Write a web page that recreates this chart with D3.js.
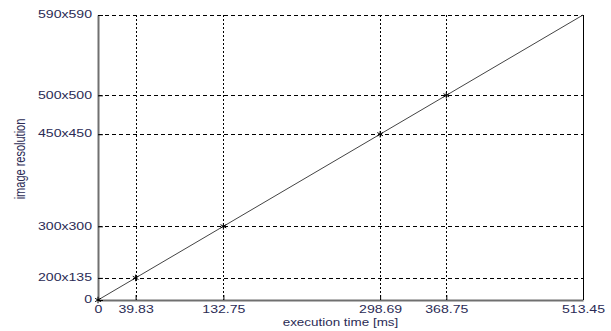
<!DOCTYPE html>
<html lang="en">
	<head>
		<meta charset="utf-8">
		<title>Execution time vs resolution</title>
		<script type="text/javascript" src="https://d3js.org/d3.v7.min.js"></script>
		<style type="text/css">
			body { margin: 0; background: #fff; }
			text { font-family: Arial, "Liberation Sans", sans-serif; }
		</style>
	</head>
	<body>
		<script>
			// execution time [ms] for each resolution
			var times = [0, 39.83, 132.75, 298.69, 368.75, 513.45];
			// total pixels of each resolution
			var pixels = [0, 27000, 90000, 202500, 250000, 348100];
			var resLabels = ["0", "200x135", "300x300", "450x450", "500x500", "590x590"];
			var timeLabels = ["0", "39.83", "132.75", "298.69", "368.75", "513.45"];
			var marked = [true, true, true, true, true, false];

			var margin = {top: 15, right: 28, bottom: 31, left: 98},
				outerWidth = 611,
				outerHeight = 331,
				width = outerWidth - margin.left - margin.right,
				height = outerHeight - margin.top - margin.bottom,
				stretch = 1.28; // the original figure's text is wide

			var svg = d3.select("body")
				.append("svg")
				.attr("width", outerWidth)
				.attr("height", outerHeight);

			var g = svg.append("g")
				.attr("transform", "translate(" + margin.left + "," + margin.top + ")");

			var x = d3.scaleLinear().domain([0, 513.45]).range([0, width]);
			var y = d3.scaleLinear().domain([0, 348100]).range([height, 0]);

			var points = times.map(function(t, i) {
				return {t: t, p: pixels[i], mark: marked[i]};
			});

			// grid
			g.append("g").selectAll("line")
				.data(times.slice(1, -1))
				.enter().append("line")
				.attr("x1", function(d) { return Math.round(x(d)) + 0.5; })
				.attr("x2", function(d) { return Math.round(x(d)) + 0.5; })
				.attr("y1", 0).attr("y2", height)
				.attr("stroke", "#000").attr("stroke-width", 1)
				.attr("stroke-dasharray", "2,2");

			g.append("g").selectAll("line")
				.data(pixels.slice(1))
				.enter().append("line")
				.attr("y1", function(d) { return Math.round(y(d)) + 0.5; })
				.attr("y2", function(d) { return Math.round(y(d)) + 0.5; })
				.attr("x1", 0).attr("x2", width)
				.attr("stroke", "#000").attr("stroke-width", 1)
				.attr("stroke-dasharray", "4,3");

			// right border
			g.append("line")
				.attr("x1", width + 0.5).attr("x2", width + 0.5)
				.attr("y1", 0).attr("y2", height)
				.attr("stroke", "#000");

			// axes
			var xAxis = d3.axisBottom(x)
				.tickValues(times)
				.tickFormat(function(d, i) { return timeLabels[i]; })
				.tickSizeInner(-5).tickSizeOuter(0).tickPadding(5);
			var yAxis = d3.axisLeft(y)
				.tickValues(pixels)
				.tickFormat(function(d, i) { return resLabels[i]; })
				.tickSizeInner(-5).tickSizeOuter(0).tickPadding(6);

			var gx = g.append("g")
				.attr("transform", "translate(0," + height + ")")
				.call(xAxis);
			var gy = g.append("g").call(yAxis);

			[gx, gy].forEach(function(a) {
				a.select(".domain").attr("stroke", "#707070").attr("stroke-width", 2);
				a.selectAll(".tick line").attr("stroke", "#000");
				a.selectAll(".tick text")
					.attr("fill", "#2b2b55")
					.style("font-size", "11px")
					.each(function() {
						d3.select(this)
							.attr("textLength", this.getComputedTextLength() * stretch)
							.attr("lengthAdjust", "spacingAndGlyphs");
					});
			});
			gy.selectAll(".tick text").attr("dy", "0.25em");

			// line
			var line = d3.line()
				.x(function(d) { return x(d.t); })
				.y(function(d) { return y(d.p); });

			g.append("path")
				.datum(points)
				.attr("fill", "none")
				.attr("stroke", "#444")
				.attr("stroke-width", 1)
				.attr("d", line);

			// asterisk markers
			var star = d3.symbol().type(d3.symbolAsterisk).size(30);
			g.append("g").selectAll("path")
				.data(points.filter(function(d) { return d.mark; }))
				.enter().append("path")
				.attr("transform", function(d) { return "translate(" + x(d.t) + "," + y(d.p) + ")"; })
				.attr("d", star)
				.attr("fill", "none")
				.attr("stroke", "#000")
				.attr("stroke-width", 1);

			// axis titles
			var xt = svg.append("text")
				.attr("x", margin.left + width / 2)
				.attr("y", 326)
				.attr("text-anchor", "middle")
				.attr("fill", "#2b2b55")
				.style("font-size", "11px")
				.text("execution time [ms]");
			xt.attr("textLength", xt.node().getComputedTextLength() * 1.22)
				.attr("lengthAdjust", "spacingAndGlyphs");

			svg.append("text")
				.attr("transform", "translate(25,159) rotate(-90) scale(1," + stretch + ")")
				.attr("text-anchor", "middle")
				.attr("fill", "#2b2b55")
				.style("font-size", "11px")
				.text("image resolution");
		</script>
	</body>
</html>
